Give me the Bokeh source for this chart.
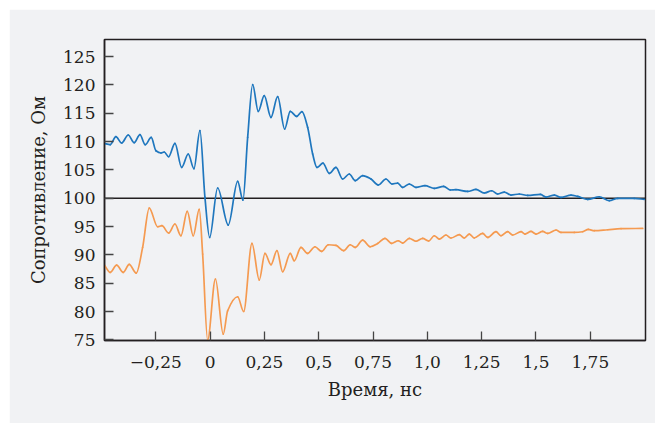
import numpy as np
from bokeh.plotting import figure
from bokeh.models import FixedTicker, Span, Range1d
from bokeh.embed import file_html
from bokeh.resources import INLINE

# Blue series: time (ns), resistance (Ohm)
time_blue = [-0.4873, -0.4597, -0.4334, -0.4072, -0.3768, -0.3492, -0.3229, -0.2985, -0.2709, -0.2493,
             -0.2263, -0.2111, -0.1908, -0.1618, -0.1310, -0.1006, -0.0743, -0.0467, -0.0237, -0.0021,
             0.0348, 0.0836, 0.1268, 0.1512, 0.1729, 0.1959, 0.2217, 0.2493, 0.2801, 0.3110,
             0.3432, 0.3690, 0.3984, 0.4228, 0.4491, 0.4721, 0.4919, 0.5195, 0.5485, 0.5793,
             0.6102, 0.6406, 0.6682, 0.7022, 0.7405, 0.7741, 0.8095, 0.8371, 0.8634, 0.8864,
             0.9168, 0.9476, 0.9890, 1.0319, 1.0751, 1.1055, 1.1317, 1.1856, 1.2238, 1.2620,
             1.2961, 1.3237, 1.3541, 1.3849, 1.4231, 1.4618, 1.5198, 1.5460, 1.5843, 1.6151,
             1.6612, 1.6920, 1.7380, 1.7914, 1.8375, 1.8761, 1.9525, 1.9986]
res_blue = [109.67, 109.44, 110.85, 109.74, 111.15, 109.79, 111.21, 109.44, 110.73, 108.38,
            107.98, 108.15, 107.32, 109.67, 105.43, 107.80, 105.21, 111.91, 100.14, 93.08,
            101.80, 95.27, 102.96, 99.68, 110.73, 120.03, 115.32, 118.09, 114.26, 117.91,
            112.21, 115.32, 114.43, 115.26, 112.49, 107.80, 105.43, 106.18, 104.38, 105.43,
            103.39, 104.27, 103.09, 103.97, 103.39, 102.33, 103.39, 102.51, 102.68, 101.91,
            102.51, 101.91, 102.21, 101.73, 102.08, 101.45, 101.50, 101.20, 101.55, 100.92,
            101.32, 100.74, 101.09, 100.56, 100.74, 100.49, 100.67, 100.21, 100.56, 100.14,
            100.56, 100.32, 99.79, 100.26, 99.56, 99.96, 99.96, 99.79]

# Orange series
time_orange = [-0.4873, -0.4597, -0.4302, -0.3998, -0.3722, -0.3400, -0.3105, -0.2801, -0.2415, -0.2217,
               -0.1908, -0.1618, -0.1342, -0.1052, -0.0776, -0.0499, -0.0343, -0.0113, 0.0246, 0.0605,
               0.0808, 0.1268, 0.1544, 0.1927, 0.2263, 0.2525, 0.2801, 0.3077, 0.3340, 0.3690,
               0.3874, 0.4182, 0.4491, 0.4827, 0.5135, 0.5439, 0.5793, 0.6148, 0.6452, 0.6682,
               0.7022, 0.7372, 0.7713, 0.8049, 0.8357, 0.8661, 0.8864, 0.9168, 0.9476, 0.9785,
               1.0061, 1.0319, 1.0549, 1.0857, 1.1087, 1.1469, 1.1700, 1.1930, 1.2160, 1.2547,
               1.2777, 1.3159, 1.3389, 1.3697, 1.3928, 1.4310, 1.4494, 1.4770, 1.5000, 1.5309,
               1.5539, 1.5921, 1.6151, 1.6763, 1.7150, 1.7408, 1.7684, 1.8301, 1.8913, 1.9912]
res_orange = [88.27, 86.91, 88.21, 86.91, 88.32, 86.80, 91.32, 98.27, 94.97, 95.15,
              93.86, 95.45, 93.38, 97.67, 93.38, 98.02, 90.15, 75.00, 85.74, 76.04,
              80.15, 82.62, 80.02, 92.02, 85.57, 90.26, 88.27, 90.74, 87.03, 90.26,
              88.97, 91.32, 90.26, 91.44, 90.61, 91.79, 91.67, 90.74, 91.79, 91.32,
              92.62, 91.44, 92.02, 92.91, 92.02, 92.50, 92.09, 92.91, 92.41, 92.91,
              92.45, 93.38, 92.80, 93.51, 92.98, 93.56, 92.98, 93.68, 92.98, 93.79,
              93.08, 94.09, 93.38, 94.09, 93.51, 94.09, 93.68, 94.14, 93.68, 94.14,
              93.79, 94.39, 93.97, 93.97, 94.09, 94.49, 94.27, 94.44, 94.62, 94.67]

x_ticks = [-0.25, 0, 0.25, 0.5, 0.75, 1.0, 1.25, 1.5, 1.75]
x_tick_labels = ["\u22120,25", "0", "0,25", "0,5", "0,75", "1,0", "1,25", "1,5", "1,75"]
y_ticks = [75, 80, 85, 90, 95, 100, 105, 110, 115, 120, 125]
reference_level = 100

BG = "#f1f2f4"
INK = "#231f20"
FONT = "DejaVu Serif"


def smooth_segments(xs, ys):
    """Monotone cubic (Fritsch-Carlson) curve through the points, as Bezier segments."""
    x = np.asarray(xs, float)
    y = np.asarray(ys, float)
    h = np.diff(x)
    d = np.diff(y) / h
    m = np.zeros(len(x))
    m[0], m[-1] = d[0], d[-1]
    for i in range(1, len(x) - 1):
        if d[i - 1] * d[i] <= 0:
            m[i] = 0.0
        else:
            w1 = 2 * h[i] + h[i - 1]
            w2 = h[i] + 2 * h[i - 1]
            m[i] = (w1 + w2) / (w1 / d[i - 1] + w2 / d[i])
    return dict(x0=x[:-1], y0=y[:-1], x1=x[1:], y1=y[1:],
                cx0=x[:-1] + h / 3, cy0=y[:-1] + m[:-1] * h / 3,
                cx1=x[1:] - h / 3, cy1=y[1:] - m[1:] * h / 3)


p = figure(width=646, height=414, margin=(9, 0, 0, 9),
           x_range=Range1d(-0.486, 2.004), y_range=Range1d(74.9, 128),
           output_backend="svg", toolbar_location=None,
           min_border_left=95, min_border_right=10, min_border_top=30, min_border_bottom=83)
p.background_fill_color = BG
p.border_fill_color = BG
p.outline_line_color = INK
p.outline_line_width = 1.5
p.grid.visible = False

p.add_layout(Span(location=reference_level, dimension="width", line_color=INK,
                  line_width=1.5, level="underlay"))

p.bezier(line_color="#1f77be", line_width=1.7, line_cap="round",
         **smooth_segments(time_blue, res_blue))
p.bezier(line_color="#f59a50", line_width=1.7, line_cap="round",
         **smooth_segments(time_orange, res_orange))

for ax in (p.xaxis[0], p.yaxis[0]):
    ax.axis_line_color = INK
    ax.axis_line_width = 1.5
    ax.major_tick_in = 9
    ax.major_tick_out = 0
    ax.major_tick_line_color = "#444444"
    ax.major_tick_line_width = 1.3
    ax.minor_tick_line_color = None
    ax.major_label_text_font = FONT
    ax.major_label_text_font_size = "17px"
    ax.major_label_text_color = INK
    ax.axis_label_text_font = FONT
    ax.axis_label_text_font_size = "18px"
    ax.axis_label_text_font_style = "normal"
    ax.axis_label_text_color = INK

p.xaxis.ticker = FixedTicker(ticks=x_ticks)
p.xaxis.major_label_overrides = {t: l for t, l in zip(x_ticks, x_tick_labels)}
p.xaxis.major_label_standoff = 15
p.xaxis.axis_label = "Время, нс"
p.xaxis.axis_label_standoff = 8

p.yaxis.ticker = FixedTicker(ticks=y_ticks)
p.yaxis.major_label_standoff = 9
p.yaxis.axis_label = "Сопротивление, Ом"
p.yaxis.axis_label_standoff = 11

open("out.html", "w").write(file_html(p, INLINE))
